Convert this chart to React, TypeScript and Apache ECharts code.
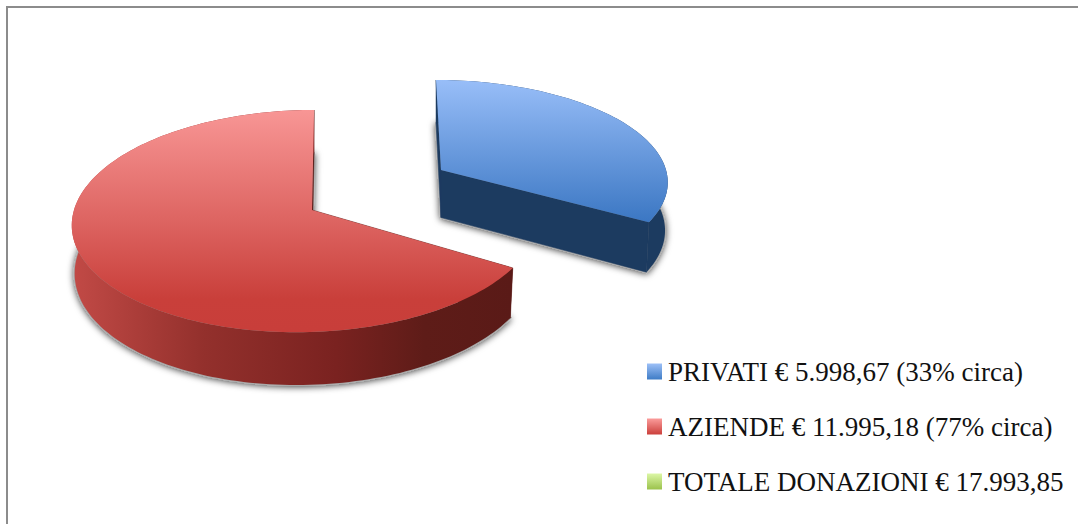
import React, { useEffect, useRef } from "react";
import * as echarts from "echarts";

const sliceNames = [
  "PRIVATI € 5.998,67 (33% circa)",
  "AZIENDE € 11.995,18 (77% circa)",
  "TOTALE DONAZIONI € 17.993,85",
];
const sliceValues = [5998.67, 11995.18, 0];

const swatchColors = [
  ["#9dc0f7", "#3e7cc6"],
  ["#fb9c9b", "#cb3f3b"],
  ["#dcf7a6", "#9bc24c"],
];
const topColors = [
  [[0, "#98bef8"], [1, "#3b77c3"]],
  [[0, "#f89695"], [0.5, "#dd6461"], [0.85, "#c93f3a"], [1, "#c83e3a"]],
  [[0, "#dcf7a6"], [1, "#9bc24c"]],
];
const wallColors = [
  [[0, "#1c3b60"], [1, "#1c3b60"]],
  [[0, "#c24a46"], [0.3, "#93302c"], [0.6, "#7a2220"], [0.8, "#5e1c18"], [1, "#5a1a17"]],
  [[0, "#7e9a3c"], [1, "#5a7228"]],
];
const radialColors = ["#1c3b60", "#5a1a17", "#5a7228"];

// Where each slice sits on the page: apex, rim centre, vanishing x, radii.
const sliceFrames = [
  { apexX: 441, apexY: 170, rimX: 441, vanishX: 386, rx: 225, ry: 99 },
  { apexX: 312, apexY: 210, rimX: 306, vanishX: 395, rx: 232, ry: 110 },
  { apexX: 312, apexY: 210, rimX: 306, vanishX: 395, rx: 232, ry: 110 },
];
const perspective = 0.1;
const depth = 47.5;
const bottomShrink = 0.988;
const sliceTotal = sliceValues.reduce((a, b) => a + b, 0);

function gradient(stops: any[], horizontal: boolean) {
  return new echarts.graphic.LinearGradient(
    0, 0, horizontal ? 1 : 0, horizontal ? 0 : 1,
    stops.map(([offset, color]) => ({ offset, color }))
  );
}

function project(f: any, angle: number, lower: boolean) {
  const X = Math.sin(angle);
  const Y = -Math.cos(angle);
  const s = 1 / (1 - perspective * Y);
  let x = f.vanishX + (f.rimX - f.vanishX + f.rx * X) * s;
  const y = f.apexY + f.ry * Y * s;
  if (!lower) return [x, y];
  x = f.apexX + (x - f.apexX) * bottomShrink;
  return [x, y + depth * s];
}

function renderSlice(index: number) {
  return () => {
    const value = sliceValues[index];
    if (!(value > 0)) return null;
    const before = sliceValues.slice(0, index).reduce((a, b) => a + b, 0);
    const a0 = (before / sliceTotal) * Math.PI * 2;
    const a1 = ((before + value) / sliceTotal) * Math.PI * 2;
    const f = sliceFrames[index];
    const steps = Math.max(8, Math.round((a1 - a0) / (Math.PI / 120)));
    const upper: number[][] = [];
    const lower: number[][] = [];
    for (let i = 0; i <= steps; i++) {
      const a = a0 + ((a1 - a0) * i) / steps;
      upper.push(project(f, a, false));
      lower.push(project(f, a, true));
    }
    const apexTop = [f.apexX, f.apexY];
    const apexBottom = [f.apexX, f.apexY + depth];
    const radial = radialColors[index];
    const quad = (p: number[], q: number[], r: number[], t: number[]) => ({
      type: "polygon",
      shape: { points: [p, q, r, t] },
      style: { fill: radial, stroke: radial, lineWidth: 0.5 },
    });
    return {
      type: "group",
      children: [
        {
          type: "polygon",
          shape: { points: [apexBottom, ...lower] },
          style: {
            fill: "#8f8f8f",
            stroke: "#a8a8a8",
            lineWidth: 2,
            shadowBlur: 7,
            shadowColor: "rgba(0,0,0,0.75)",
            shadowOffsetX: 0,
            shadowOffsetY: 1,
          },
        },
        quad(apexTop, upper[0], lower[0], apexBottom),
        quad(apexTop, upper[steps], lower[steps], apexBottom),
        {
          type: "polygon",
          shape: { points: [...upper, ...lower.slice().reverse()] },
          style: { fill: gradient(wallColors[index], true) },
        },
        {
          type: "polygon",
          shape: { points: [apexTop, ...upper] },
          style: { fill: gradient(topColors[index], false) },
        },
      ],
    };
  };
}

export default function App() {
  const ref = useRef<HTMLDivElement>(null);
  useEffect(() => {
    document.body.style.margin = "0";
    const chart = echarts.init(ref.current!, undefined, { renderer: "svg" });
    chart.setOption({
      animation: false,
      backgroundColor: "#ffffff",
      legend: {
        orient: "vertical",
        left: 642,
        top: 353,
        itemWidth: 15,
        itemHeight: 16,
        itemGap: 28,
        selectedMode: false,
        icon: "rect",
        data: sliceNames,
        textStyle: {
          fontFamily: "Liberation Serif",
          fontSize: 27,
          color: "#111111",
          padding: [0, 0, 0, 1],
        },
      },
      graphic: [
        {
          type: "polyline",
          silent: true,
          shape: { points: [[7, 524], [7, 7], [1078, 7]] },
          style: { stroke: "#8c8c8c", lineWidth: 2, fill: "none" },
        },
      ],
      series: sliceNames.map((name, i) => ({
        type: "custom",
        name,
        coordinateSystem: "none",
        silent: true,
        itemStyle: { color: gradient([[0, swatchColors[i][0]], [1, swatchColors[i][1]]], false) },
        data: [[sliceValues[i]]],
        renderItem: renderSlice(i),
      })),
    });
    return () => chart.dispose();
  }, []);
  return <div ref={ref} style={{ width: 1078, height: 524 }} />;
}
